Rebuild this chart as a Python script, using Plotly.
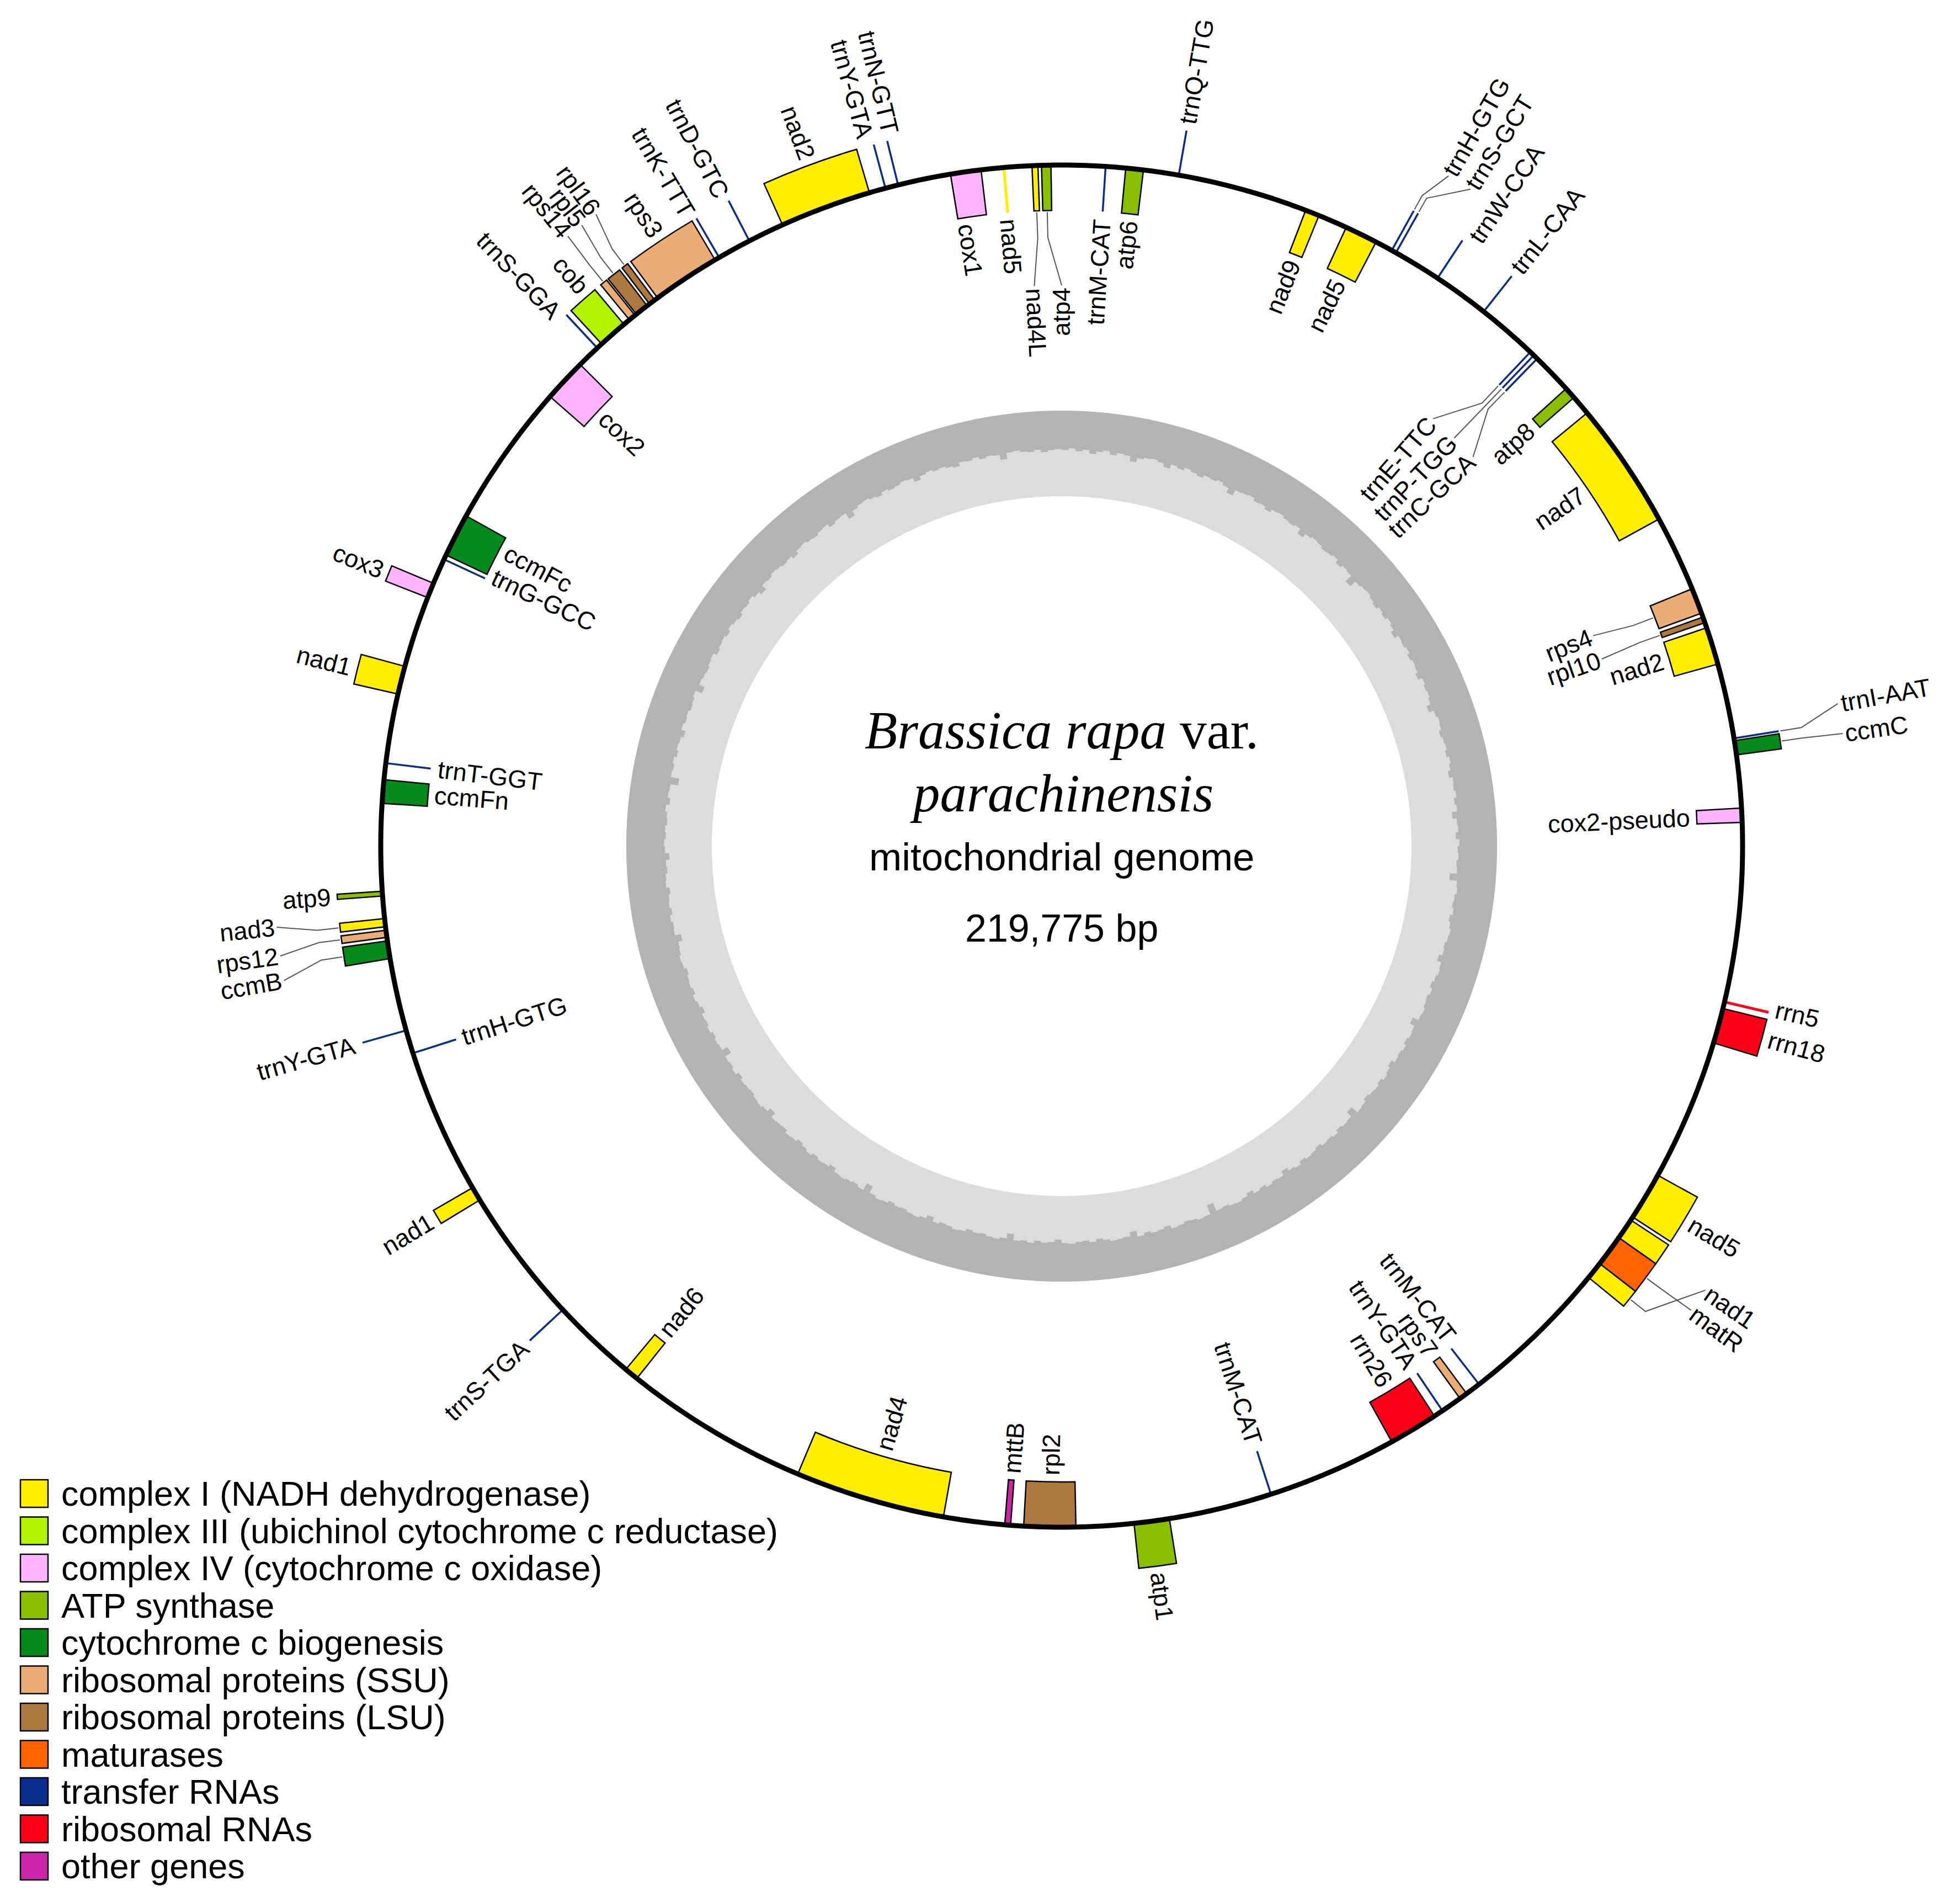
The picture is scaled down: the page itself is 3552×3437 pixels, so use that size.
import math
import plotly.graph_objects as go

# ---------------- data ----------------
GENOME_LENGTH = 219775
TITLE_LINES = ["<i>Brassica rapa</i> var.", "<i>parachinensis</i>"]
SUBTITLE = "mitochondrial genome"
SIZE_TEXT = "219,775 bp"

CATEGORIES = [
    "complex I (NADH dehydrogenase)",
    "complex III (ubichinol cytochrome c reductase)",
    "complex IV (cytochrome c oxidase)",
    "ATP synthase",
    "cytochrome c biogenesis",
    "ribosomal proteins (SSU)",
    "ribosomal proteins (LSU)",
    "maturases",
    "transfer RNAs",
    "ribosomal RNAs",
    "other genes",
]
CATEGORY_COLORS = ["#ffee00", "#b2f300", "#ffb3ff", "#89bf00", "#058a1c", "#ebad76",
                   "#ad7940", "#ff6300", "#0a2c8a", "#ff0019", "#cc26a8"]

gene_names = [
    "trnM-CAT", "atp6", "trnQ-TTG", "nad9", "nad5", "trnH-GTG", "trnS-GCT", "trnW-CCA",
    "trnL-CAA", "trnE-TTC", "trnP-TGG", "trnC-GCA", "atp8", "nad7", "rps4", "rpl10",
    "nad2", "trnI-AAT", "ccmC", "cox2-pseudo", "rrn5", "rrn18", "nad5", "nad1",
    "matR", "nad1", "trnM-CAT", "rps7", "trnY-GTA", "rrn26", "trnM-CAT", "atp1",
    "rpl2", "mttB", "nad4", "nad6", "trnS-TGA", "nad1", "trnH-GTG", "trnY-GTA",
    "ccmB", "rps12", "nad3", "atp9", "ccmFn", "trnT-GGT", "nad1", "cox3",
    "trnG-GCC", "ccmFc", "cox2", "trnS-GGA", "cob", "rps14", "rpl5", "rpl16",
    "rps3", "trnK-TTT", "trnD-GTC", "nad2", "trnY-GTA", "trnN-GTT", "cox1", "nad5",
    "nad4L", "atp4",
]
gene_start = [
    2222, 3297, 6007, 12820, 15079, 17666, 17910, 20413,
    23344, 26518, 26762, 27007, 29181, 30830, 41391, 42948,
    43528, 49350, 49510, 52990, 62941, 63368, 72587, 75273,
    76370, 78020, 86773, 87605, 89093, 89619, 98922, 104332,
    109155, 112513, 115992, 133452, 138603, 145723, 153988, 155209,
    159032, 160130, 160680, 162267, 167029, 169067, 172706, 177896,
    179994, 180277, 190044, 193486, 193829, 195722, 196180, 197034,
    197553, 201300, 203071, 205001, 210580, 211252, 214036, 216723,
    218249, 218737,
]
gene_end = [
    2297, 4212, 6082, 13553, 16788, 17741, 17985, 20488,
    23419, 26593, 26837, 27082, 29792, 37423, 42734, 43253,
    45481, 49425, 50243, 53723, 63094, 65200, 75090, 76370,
    78020, 78936, 86848, 88032, 89168, 92183, 98997, 106164,
    111841, 112818, 123807, 134185, 138678, 146456, 154063, 155284,
    159947, 160497, 161107, 162511, 168250, 169142, 174171, 178689,
    180069, 182535, 192303, 193561, 195356, 196088, 196882, 197370,
    201094, 201375, 203146, 209763, 210655, 211327, 215624, 216876,
    218554, 219225,
]
# +1 = drawn outside the circle, -1 = drawn inside
gene_strand = [
    -1, -1, 1, -1, -1, 1, 1, 1,
    1, -1, -1, -1, -1, -1, -1, -1,
    -1, 1, 1, -1, 1, 1, 1, 1,
    1, 1, -1, -1, -1, -1, -1, 1,
    -1, -1, -1, -1, 1, 1, -1, 1,
    1, 1, 1, 1, -1, -1, 1, 1,
    -1, -1, -1, 1, 1, 1, 1, 1,
    1, 1, 1, 1, 1, 1, -1, -1,
    -1, -1,
]
gene_category = [
    8, 3, 8, 0, 0, 8, 8, 8,
    8, 8, 8, 8, 3, 0, 5, 6,
    0, 8, 4, 2, 9, 9, 0, 0,
    7, 0, 8, 5, 8, 9, 8, 3,
    6, 10, 0, 0, 8, 0, 8, 8,
    4, 5, 0, 3, 4, 8, 0, 2,
    8, 4, 2, 8, 1, 5, 6, 6,
    5, 8, 8, 0, 8, 8, 2, 0,
    0, 3,
]

# GC content (%) in 360 consecutive windows, clockwise from position 1
gc_content = [
    46, 44, 47, 45, 49, 46, 44, 48, 45, 46, 52, 47, 45, 44, 46, 50, 45, 47, 44, 46,
    48, 45, 46, 44, 47, 53, 46, 45, 44, 47, 46, 49, 45, 44, 46, 47, 45, 51, 46, 44,
    45, 47, 46, 44, 48, 45, 46, 55, 47, 45, 44, 46, 48, 45, 47, 44, 46, 50, 45, 46,
    44, 47, 45, 46, 49, 44, 46, 45, 47, 52, 46, 44, 45, 48, 46, 45, 47, 44, 46, 49,
    45, 46, 44, 47, 45, 51, 46, 45, 48, 44, 46, 45, 47, 46, 54, 45, 44, 46, 47, 45,
    48, 46, 44, 45, 47, 46, 50, 45, 44, 46, 48, 45, 47, 46, 44, 45, 52, 46, 45, 47,
    44, 46, 45, 49, 46, 44, 47, 45, 46, 48, 45, 44, 53, 46, 45, 47, 44, 46, 45, 48,
    46, 45, 47, 44, 46, 50, 45, 46, 44, 47, 45, 49, 46, 44, 45, 47, 46, 56, 45, 44,
    46, 47, 45, 44, 48, 46, 45, 47, 44, 51, 46, 45, 44, 46, 48, 45, 47, 46, 44, 45,
    49, 46, 45, 47, 44, 46, 45, 52, 46, 44, 45, 47, 46, 48, 45, 44, 46, 47, 45, 50,
    46, 44, 45, 47, 46, 48, 45, 44, 46, 54, 45, 47, 46, 44, 45, 49, 46, 45, 47, 44,
    46, 48, 45, 44, 47, 46, 45, 51, 46, 44, 45, 47, 46, 45, 48, 44, 46, 45, 53, 46,
    45, 47, 44, 46, 45, 49, 46, 44, 47, 45, 46, 48, 45, 44, 46, 47, 52, 45, 46, 44,
    47, 45, 46, 48, 44, 45, 47, 46, 50, 45, 44, 46, 45, 47, 46, 44, 48, 45, 46, 55,
    45, 46, 44, 47, 45, 46, 49, 44, 46, 45, 47, 46, 44, 52, 45, 46, 47, 45, 44, 48,
    46, 45, 47, 44, 46, 48, 45, 46, 44, 47, 51, 45, 46, 44, 45, 47, 46, 49, 45, 44,
    46, 47, 45, 44, 48, 46, 45, 53, 47, 45, 44, 46, 48, 45, 47, 46, 44, 45, 50, 46,
    44, 46, 45, 47, 49, 45, 46, 44, 47, 45, 46, 52, 45, 44, 46, 47, 45, 48, 46, 45,
]

# ---------------- layout constants (screen pixels) ----------------
FIG_W, FIG_H, PAGE_OFF = 3536, 3421, 8
CX, CY = 1924.0, 1533.0
R_MAX = 1515.0
R_MAP = 1234.0
BOX_T = 82.0
LABEL_GAP = 12.0
RING_OUT, RING_IN = 789.0, 634.0
SANS = "Liberation Sans, Arial, sans-serif"
SERIF = "Liberation Serif, Times New Roman, serif"
LABEL_SIZE = 45
LEG_SIZE = 63

# label placement tweaks (index -> label angle in degrees), and leader-line lengths
LABEL_ANGLE = {5: 30.0, 6: 31.9, 7: 34.3, 9: 41.0, 10: 43.9, 11: 46.6, 14: 68.4, 15: 70.9,
               17: 79.6, 18: 81.8, 20: 102.9, 24: 126.4, 25: 124.6, 26: 141.7, 27: 143.9,
               28: 146.1, 29: 148.9, 40: 260.2, 41: 262.0, 42: 264.1, 48: 295.4, 49: 297.9,
               51: 316.4, 52: 319.3, 53: 321.0, 54: 322.3, 55: 323.6, 57: 329.4, 58: 332.4,
               60: 344.5, 61: 346.5, 62: 351.3, 64: 357.2, 65: 0.0}
LEADER = {5: 90, 6: 90, 9: 130, 10: 130, 11: 130, 14: 120, 15: 120, 17: 118, 18: 118,
          24: 105, 25: 105, 40: 118, 41: 118, 42: 118, 53: 110, 54: 110, 55: 110,
          64: 140, 65: 140}
NO_LABEL = {23}

CHAR_W = {
    'a': .556, 'b': .556, 'c': .5, 'd': .556, 'e': .556, 'f': .278, 'g': .556, 'h': .556,
    'i': .222, 'j': .222, 'k': .5, 'l': .222, 'm': .833, 'n': .556, 'o': .556, 'p': .556,
    'q': .556, 'r': .333, 's': .5, 't': .278, 'u': .556, 'v': .5, 'w': .722, 'x': .5,
    'y': .5, 'z': .5, 'A': .667, 'B': .667, 'C': .722, 'D': .722, 'E': .667, 'F': .611,
    'G': .778, 'H': .722, 'I': .278, 'K': .667, 'L': .556, 'M': .833, 'N': .722, 'P': .667,
    'Q': .778, 'R': .722, 'S': .667, 'T': .611, 'W': .944, 'Y': .667, '-': .333, ' ': .278,
}


def text_len(s, size):
    return sum(CHAR_W.get(c, 0.556) for c in s) * size


def deg(bp):
    return bp / GENOME_LENGTH * 360.0


def screen(theta, r):
    t = math.radians(theta)
    return CX + r * math.sin(t), CY - r * math.cos(t)


fig = go.Figure()

# ---------------- GC content ring ----------------
n_gc = len(gc_content)
step = 360.0 / n_gc
circ = [i * 0.5 for i in range(721)]
light_t = circ + circ[::-1] + [0]
light_r = [RING_OUT] * 721 + [RING_IN] * 721 + [RING_OUT]
fig.add_trace(go.Scatterpolar(theta=light_t, r=light_r, mode="lines", fill="toself",
                              fillcolor="#dcdcdc", line=dict(width=0), hoverinfo="skip"))
dark_t, dark_r = list(circ), [RING_OUT] * 721
for i in reversed(range(n_gc)):
    rb = RING_OUT - gc_content[i] / 100.0 * (RING_OUT - RING_IN)
    dark_t += [(i + 1) * step, i * step]
    dark_r += [rb, rb]
dark_t.append(0)
dark_r.append(RING_OUT)
fig.add_trace(go.Scatterpolar(theta=dark_t, r=dark_r, mode="lines", fill="toself",
                              fillcolor="#b3b3b3", line=dict(width=0), hoverinfo="skip"))

# ---------------- gene boxes ----------------
line_genes = []
for c in range(len(CATEGORIES)):
    th, wd, base = [], [], []
    for i in range(len(gene_names)):
        if gene_category[i] != c:
            continue
        a0, a1 = deg(gene_start[i]), deg(gene_end[i])
        if c == 8 or (a1 - a0) < 0.3:
            line_genes.append(i)
            continue
        th.append((a0 + a1) / 2)
        wd.append(a1 - a0)
        base.append(R_MAP if gene_strand[i] > 0 else R_MAP - BOX_T)
    if th:
        fig.add_trace(go.Barpolar(theta=th, width=wd, base=base, r=[BOX_T] * len(th),
                                  marker=dict(color=CATEGORY_COLORS[c],
                                              line=dict(color="black", width=2.5)),
                                  hoverinfo="skip"))

# thin genes (tRNAs etc.) as radial strokes
for i in line_genes:
    a = deg((gene_start[i] + gene_end[i]) / 2)
    s = gene_strand[i]
    fig.add_trace(go.Scatterpolar(theta=[a, a], r=[R_MAP, R_MAP + s * BOX_T], mode="lines",
                                  line=dict(color=CATEGORY_COLORS[gene_category[i]],
                                            width=3.5 if gene_category[i] == 8 else 5),
                                  hoverinfo="skip"))

# genome circle
fig.add_trace(go.Scatterpolar(theta=circ, r=[R_MAP] * 721, mode="lines",
                              line=dict(color="black", width=9), hoverinfo="skip"))

# ---------------- labels & leaders ----------------
ann = []
lead_t, lead_r = [], []
for i, name in enumerate(gene_names):
    if i in NO_LABEL:
        continue
    s = gene_strand[i]
    ag = deg((gene_start[i] + gene_end[i]) / 2)
    al = LABEL_ANGLE.get(i, ag)
    r_end = R_MAP + s * BOX_T
    if i in LEADER:
        L = LEADER[i]
        lead_t += [ag, ag, al, None]
        lead_r += [r_end + s * 3, r_end + s * L * 0.35, r_end + s * (L - 4), None]
        r_near = r_end + s * L
    else:
        r_near = r_end + s * LABEL_GAP
    rc = r_near + s * text_len(name, LABEL_SIZE) / 2
    x, y = screen(al, rc)
    a_mod = al % 360
    ta = a_mod - 90 if a_mod < 180 else a_mod - 270
    ann.append(dict(x=x, y=y, xref="x", yref="y", text=name, textangle=ta, showarrow=False,
                    xanchor="center", yanchor="middle",
                    font=dict(family=SANS, size=LABEL_SIZE, color="black")))
fig.add_trace(go.Scatterpolar(theta=lead_t, r=lead_r, mode="lines",
                              line=dict(color="#555555", width=2), hoverinfo="skip"))

# ---------------- centre text ----------------
ann.append(dict(x=CX, y=1323, xref="x", yref="y", text=TITLE_LINES[0], showarrow=False,
                font=dict(family=SERIF, size=97, color="black")))
ann.append(dict(x=CX, y=1437, xref="x", yref="y", text=TITLE_LINES[1], showarrow=False,
                font=dict(family=SERIF, size=97, color="black")))
ann.append(dict(x=CX, y=1552, xref="x", yref="y", text=SUBTITLE, showarrow=False,
                font=dict(family=SANS, size=71, color="black")))
ann.append(dict(x=CX, y=1682, xref="x", yref="y", text=SIZE_TEXT, showarrow=False,
                font=dict(family=SANS, size=70, color="black")))

# ---------------- legend ----------------
LEG_X, LEG_Y0, LEG_DY, LEG_TX = 62, 2706, 67.5, 109
leg_y = [LEG_Y0 + k * LEG_DY for k in range(len(CATEGORIES))]
fig.add_trace(go.Scatter(x=[LEG_X] * len(CATEGORIES), y=leg_y, mode="markers",
                         marker=dict(symbol="square", size=50, color=CATEGORY_COLORS,
                                     line=dict(color="black", width=2.5)),
                         hoverinfo="skip", xaxis="x", yaxis="y"))
for k, cat in enumerate(CATEGORIES):
    ann.append(dict(x=LEG_TX, y=leg_y[k], xref="x", yref="y", text=cat, showarrow=False,
                    xanchor="left", yanchor="middle",
                    font=dict(family=SANS, size=LEG_SIZE, color="black")))

# ---------------- layout ----------------
fx, fy = CX - PAGE_OFF, FIG_H - (CY - PAGE_OFF)
fig.update_layout(
    width=FIG_W, height=FIG_H, autosize=False, margin=dict(l=0, r=0, t=0, b=0, pad=0),
    paper_bgcolor="white", plot_bgcolor="white", showlegend=False,
    xaxis=dict(range=[PAGE_OFF, PAGE_OFF + FIG_W], visible=False, fixedrange=True, domain=[0, 1]),
    yaxis=dict(range=[PAGE_OFF + FIG_H, PAGE_OFF], visible=False, fixedrange=True, domain=[0, 1]),
    polar=dict(
        domain=dict(x=[(fx - R_MAX) / FIG_W, (fx + R_MAX) / FIG_W],
                    y=[(fy - R_MAX) / FIG_H, (fy + R_MAX) / FIG_H]),
        bgcolor="rgba(0,0,0,0)", bargap=0,
        radialaxis=dict(range=[0, R_MAX], visible=False, showgrid=False),
        angularaxis=dict(rotation=90, direction="clockwise", visible=False, showgrid=False),
    ),
    annotations=ann,
)

fig.write_html("out.html")
